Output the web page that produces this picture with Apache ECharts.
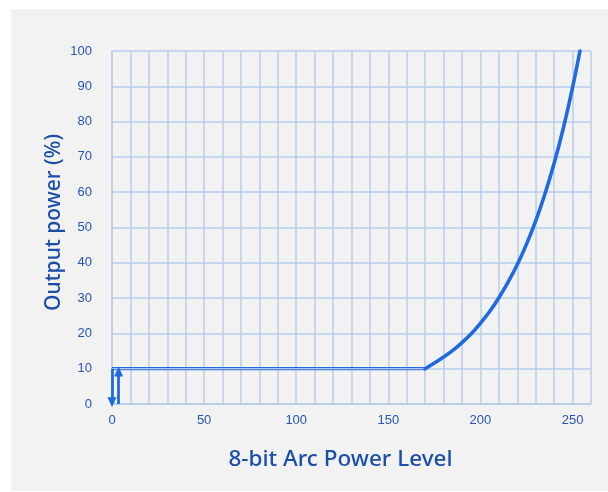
<!DOCTYPE html>
<html><head><meta charset="utf-8">
<script src="https://cdn.jsdelivr.net/npm/echarts@6/dist/echarts.min.js"></script>
<style>html,body{margin:0;padding:0;background:#fff}#c{width:608px;height:492px}</style>
</head><body><div id="c"></div>
<script>
// Data
const flatLevels = [0, 170];
const flatPct = [10, 10];
const curveLevels = [170, 175, 180, 185, 190, 195, 200, 205, 210, 215, 220, 225, 230, 235, 240, 245, 250, 254];
const curvePct = [10, 11.6, 13.3, 15.2, 17.4, 19.9, 22.9, 26.2, 30.1, 34.5, 39.5, 45.3, 51.9, 59.5, 68.2, 78.2, 89.7, 100];
const xTickLabels = [0, 50, 100, 150, 200, 250];
const yTickLabels = [0, 10, 20, 30, 40, 50, 60, 70, 80, 90, 100];
const arrowDown = [[0, 10], [0, 0.5]];
const arrowUp = [[3.6, 0], [3.6, 9.2]];

const blue = '#1f6ae0';
const gridColor = '#b9cdea';
const labelColor = '#2556b3';
const nameColor = '#1b4ea8';

const chart = echarts.init(document.getElementById('c'), null, {renderer: 'canvas'});
chart.setOption({
  backgroundColor: '#ffffff',
  animation: false,
  graphic: [{type: 'rect', z: -10, shape: {x: 11, y: 9, width: 597, height: 482}, style: {fill: '#f2f2f2'}}],
  grid: {left: 112, top: 51, right: 17, bottom: 88},
  xAxis: {
    type: 'value', min: 0, max: 260, interval: 10,
    name: '8-bit Arc Power Level', nameLocation: 'middle', nameGap: 44,
    nameTextStyle: {fontFamily: 'Noto Sans', fontSize: 22.5, fontWeight: 500, color: nameColor, padding: [0, 22, 0, 0]},
    axisLine: {show: true, lineStyle: {color: gridColor, width: 1.5}},
    axisTick: {show: false},
    axisLabel: {
      color: labelColor, fontFamily: 'Liberation Sans', fontSize: 13, margin: 10,
      formatter: v => xTickLabels.includes(v) ? String(v) : ''
    },
    splitLine: {show: true, lineStyle: {color: gridColor, width: 1.5}}
  },
  yAxis: {
    type: 'value', min: 0, max: 100, interval: 10,
    name: 'Output power (%)', nameLocation: 'middle', nameGap: 47, nameMoveOverlap: false,
    nameTextStyle: {fontFamily: 'Noto Sans', fontSize: 21, fontWeight: 500, color: nameColor, padding: [0, 0, 0, 10]},
    axisLine: {show: true, lineStyle: {color: gridColor, width: 1.5}},
    axisTick: {show: false},
    axisLabel: {
      color: labelColor, fontFamily: 'Liberation Sans', fontSize: 13, margin: 20,
      formatter: v => yTickLabels.includes(v) ? String(v) : ''
    },
    splitLine: {show: true, lineStyle: {color: gridColor, width: 1.5}}
  },
  series: [
    {
      type: 'line', symbol: 'none',
      data: flatLevels.map((x, i) => [x, flatPct[i]]),
      lineStyle: {color: blue, width: 3.2},
      z: 3
    },
    {
      type: 'line', symbol: 'none',
      data: flatLevels.map((x, i) => [x, flatPct[i]]),
      lineStyle: {color: '#dfe8f6', width: 1.1},
      z: 4
    },
    {
      type: 'line', smooth: 0.4, symbol: 'none',
      data: curveLevels.map((x, i) => [x, curvePct[i]]),
      lineStyle: {color: blue, width: 3.6, cap: 'round'},
      z: 5
    },
    {
      type: 'line', symbol: 'none', data: [], z: 6, clip: false,
      markLine: {
        silent: true, symbol: ['none', 'triangle'], symbolSize: [9, 10],
        label: {show: false},
        lineStyle: {color: blue, width: 2.8, type: 'solid'},
        data: [
          [{coord: arrowDown[0]}, {coord: arrowDown[1]}],
          [{coord: arrowUp[0]}, {coord: arrowUp[1]}]
        ]
      }
    }
  ]
});
</script></body></html>
